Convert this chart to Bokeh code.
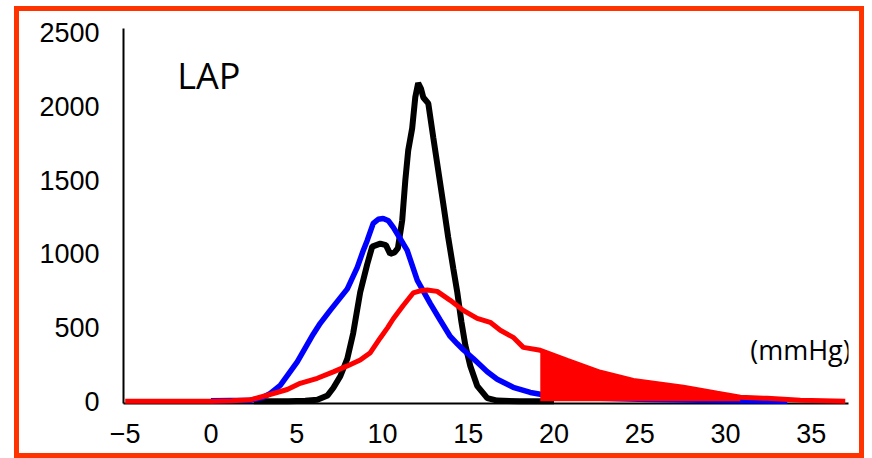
from bokeh.plotting import figure
from bokeh.models import FixedTicker, Label, Range1d
from bokeh.embed import file_html
from bokeh.resources import INLINE

# ---- data ----
x_ticks = [-5, 0, 5, 10, 15, 20, 25, 30, 35]
y_ticks = [0, 500, 1000, 1500, 2000, 2500]

black_x = [2.5, 4.5, 5.5, 6.2, 6.8, 7.13, 7.54, 7.95, 8.29, 8.70, 9.11, 9.4, 9.87, 10.2, 10.45,
           10.7, 10.9, 11.15, 11.33, 11.50, 11.73, 11.91, 12.08, 12.25, 12.38, 12.67, 12.96,
           13.25, 13.54, 13.83, 14.13, 14.36, 14.6, 14.83, 15.12, 15.52, 16.11, 16.69, 18, 20]
black_y = [0, 0, 3, 10, 40, 90, 170, 290, 461, 740, 930, 1050, 1070, 1060, 1000,
           1010, 1040, 1228, 1499, 1703, 1852, 2062, 2160, 2120, 2062, 2022, 1791,
           1567, 1343, 1113, 900, 740, 540, 380, 240, 105, 22, 5, 0, 0]

blue_x = [0, 2.29, 3.0, 3.46, 4.04, 5.03, 5.96, 6.37, 6.95, 7.95, 8.53, 8.88, 9.11, 9.46,
          9.75, 10.04, 10.35, 10.63, 11.0, 11.44, 12.03, 12.78, 13.37, 13.95, 14.36, 14.71,
          15.29, 16.11, 16.69, 17.62, 18.62, 19.2, 20.5, 22.7, 25.5, 28.5, 31, 33.6]
blue_y = [3, 7, 25, 54, 108, 268, 455, 529, 617, 763, 909, 1024, 1092, 1208,
          1235, 1241, 1225, 1180, 1110, 1024, 820, 665, 550, 440, 390, 350,
          290, 200, 150, 95, 60, 48, 32, 20, 12, 7, 4, 0]

red_x = [-5, 0, 1.2, 2.29, 3.28, 4.45, 5.2, 6.2, 7.13, 7.95, 8.70, 9.29, 9.87, 10.3, 10.63,
         11.21, 11.79, 12.2, 12.61, 13.19, 13.95, 14.71, 15.52, 16.28, 16.87, 17.62, 18.21,
         19.2, 20.77, 22.70, 24.62, 27.54, 29.52, 30.86, 32.43, 34.36, 36.98]
red_y = [0, 0, 3, 10, 41, 80, 122, 156, 200, 240, 280, 330, 430, 500, 560,
         650, 735, 750, 755, 746, 685, 617, 563, 536, 482, 434, 366,
         346, 278, 197, 142, 95, 54, 27, 20, 7, 0]

fill_from, fill_to = 19.2, 30.86
fill_x = [x for x in red_x if fill_from <= x <= fill_to]
fill_y = [y for x, y in zip(red_x, red_y) if fill_from <= x <= fill_to]

# ---- figure ----
p = figure(width=840, height=442, output_backend="svg", toolbar_location=None,
           x_range=Range1d(-5.1, 37.17), y_range=Range1d(-15, 2530),
           min_border_left=104, min_border_right=21, min_border_top=17,
           min_border_bottom=60)
p.styles = {"border": "5px solid #FF3300", "box-sizing": "content-box",
            "margin-left": "14px", "margin-top": "6px"}
p.background_fill_color = "white"
p.border_fill_color = "white"
p.outline_line_color = None
p.xgrid.visible = False
p.ygrid.visible = False

for ax in (p.xaxis[0], p.yaxis[0]):
    ax.axis_line_color = "black"
    ax.axis_line_width = 2
    ax.major_tick_line_color = None
    ax.minor_tick_line_color = None
    ax.major_tick_out = 0
    ax.major_tick_in = 0
    ax.major_label_text_font = "Liberation Sans"
    ax.major_label_text_font_size = "27px"
    ax.major_label_text_color = "black"

p.xaxis.ticker = FixedTicker(ticks=x_ticks)
p.yaxis.ticker = FixedTicker(ticks=y_ticks)
p.xaxis.major_label_standoff = 20
p.yaxis.major_label_standoff = 24

p.line(black_x, black_y, line_color="black", line_width=6, level="overlay")
p.line(blue_x, blue_y, line_color="#0000FF", line_width=5.5, level="overlay")
p.line(red_x, red_y, line_color="#FF0000", line_width=5, level="overlay")
p.varea(x=fill_x, y1=[0] * len(fill_x), y2=fill_y, fill_color="#FF0000", level="overlay")

p.add_layout(Label(x=-1.97, y=2210, text="LAP", text_font="Open Sans",
                   text_font_size="36px", text_color="black", text_baseline="alphabetic"))
p.add_layout(Label(x=31.44, y=353, text="(mmHg)", text_font="Open Sans",
                   text_font_size="27px", text_color="black", text_baseline="alphabetic"))

open("out.html", "w").write(file_html(p, INLINE))
